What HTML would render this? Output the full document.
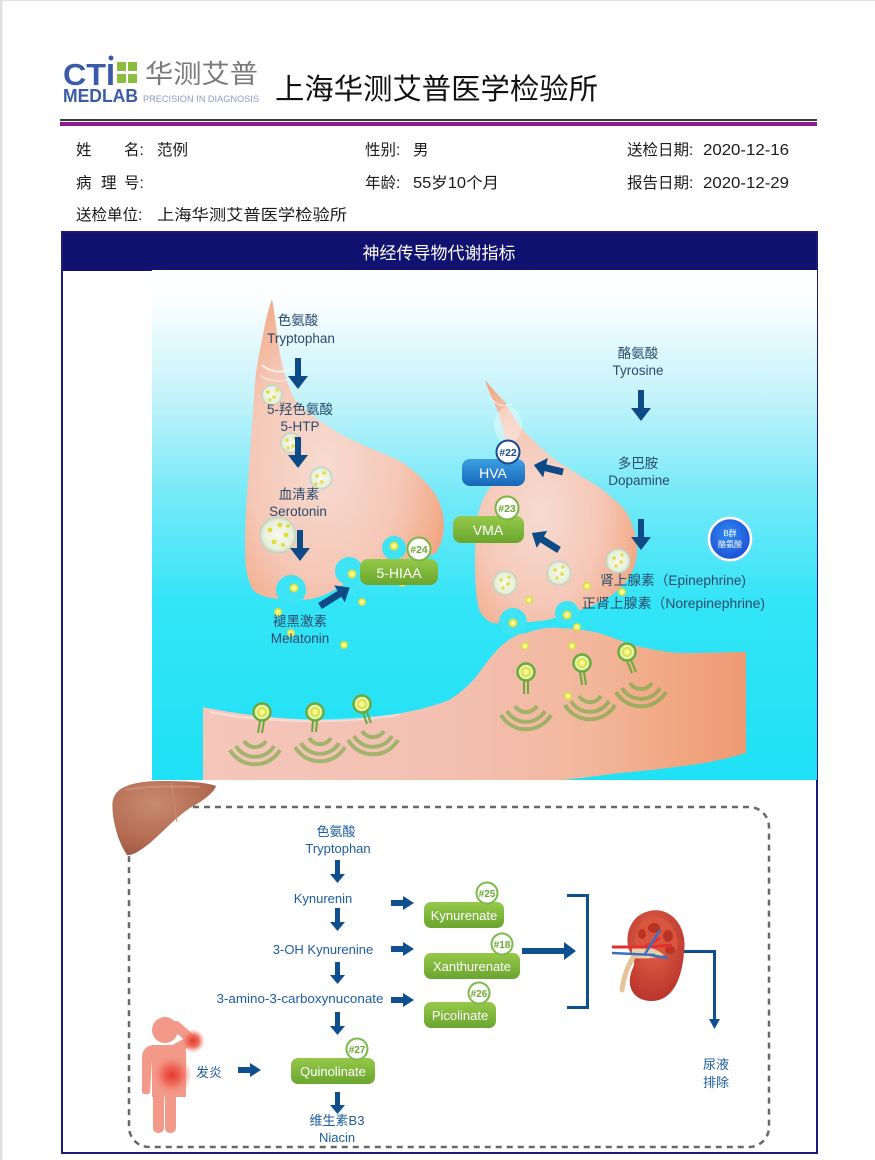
<!DOCTYPE html>
<html><head><meta charset="utf-8">
<style>
html,body{margin:0;padding:0;background:#fff;}
svg{display:block;}
text{font-family:"Liberation Sans","Noto Sans CJK SC",sans-serif;}
</style></head><body>
<svg width="875" height="1160" viewBox="0 0 875 1160" xmlns="http://www.w3.org/2000/svg">
<defs>
  <linearGradient id="bg" x1="0" y1="270" x2="0" y2="780" gradientUnits="userSpaceOnUse">
    <stop offset="0" stop-color="#ffffff"/>
    <stop offset="0.06" stop-color="#fbfeff"/>
    <stop offset="0.25" stop-color="#c4f3fa"/>
    <stop offset="0.45" stop-color="#72e9f8"/>
    <stop offset="0.65" stop-color="#34e4f7"/>
    <stop offset="1" stop-color="#1fe1f6"/>
  </linearGradient>
  <radialGradient id="neu" cx="0.4" cy="0.55" r="0.7">
    <stop offset="0" stop-color="#f7dbd2"/>
    <stop offset="0.55" stop-color="#f5c7b6"/>
    <stop offset="0.85" stop-color="#f2ad8c"/>
    <stop offset="1" stop-color="#ec9870"/>
  </radialGradient>
  <linearGradient id="low" x1="0" y1="0" x2="1" y2="0">
    <stop offset="0" stop-color="#f5c6bb"/>
    <stop offset="0.45" stop-color="#f3c0b2"/>
    <stop offset="0.7" stop-color="#f2b89e"/>
    <stop offset="0.9" stop-color="#f0a47e"/>
    <stop offset="1" stop-color="#ee9a74"/>
  </linearGradient>
  <linearGradient id="blueb" x1="0" y1="0" x2="0" y2="1">
    <stop offset="0" stop-color="#3d9fe4"/>
    <stop offset="1" stop-color="#1766b6"/>
  </linearGradient>
  <linearGradient id="greenb" x1="0" y1="0" x2="0" y2="1">
    <stop offset="0" stop-color="#95c94a"/>
    <stop offset="1" stop-color="#6aa52e"/>
  </linearGradient>
  <radialGradient id="bq" cx="0.45" cy="0.4" r="0.6">
    <stop offset="0" stop-color="#2f8cf0"/>
    <stop offset="1" stop-color="#1e4fd6"/>
  </radialGradient>
  <radialGradient id="liver" cx="0.4" cy="0.3" r="0.8">
    <stop offset="0" stop-color="#c98a70"/>
    <stop offset="0.7" stop-color="#b0694f"/>
    <stop offset="1" stop-color="#965440"/>
  </radialGradient>
  <radialGradient id="glow" cx="0.5" cy="0.5" r="0.5">
    <stop offset="0" stop-color="#e53a2c"/>
    <stop offset="0.5" stop-color="#ef6e60"/>
    <stop offset="1" stop-color="#f2998a" stop-opacity="0"/>
  </radialGradient>
  <radialGradient id="kid" cx="0.45" cy="0.35" r="0.7">
    <stop offset="0" stop-color="#e0654a"/>
    <stop offset="1" stop-color="#b8322a"/>
  </radialGradient>
  <radialGradient id="ves" cx="0.5" cy="0.5" r="0.5">
    <stop offset="0" stop-color="#f6f8ec"/>
    <stop offset="0.8" stop-color="#e8f0dc"/>
    <stop offset="1" stop-color="#c9d9c4"/>
  </radialGradient>
  <radialGradient id="ydot" cx="0.5" cy="0.5" r="0.5">
    <stop offset="0" stop-color="#ffffff"/>
    <stop offset="0.45" stop-color="#f8f46a"/>
    <stop offset="1" stop-color="#c8d83a"/>
  </radialGradient>
  <clipPath id="imgclip"><rect x="152" y="270" width="665" height="510"/></clipPath>
</defs>

<!-- page edges -->
<rect x="0" y="0" width="875" height="1" fill="#e2e2e2"/>
<rect x="0" y="0" width="2.5" height="1160" fill="#e0e0e0"/>

<!-- logo -->
<text x="63" y="85" font-size="31" font-weight="bold" fill="#3a5ca6" textLength="52" lengthAdjust="spacingAndGlyphs">CTI</text>
<circle cx="111" cy="58" r="2.5" fill="#3a5ca6"/>
<rect x="117" y="62" width="9" height="9" fill="#8bbd3e"/>
<rect x="128" y="62" width="9" height="9" fill="#8bbd3e"/>
<rect x="117" y="74" width="9" height="9" fill="#8bbd3e"/>
<rect x="128" y="74" width="9" height="9" fill="#8bbd3e"/>
<text x="145" y="83" font-size="26" fill="#7a7a7a" textLength="113" lengthAdjust="spacingAndGlyphs">华测艾普</text>
<text x="63" y="102" font-size="18" font-weight="bold" fill="#3a5ca6" textLength="75" lengthAdjust="spacingAndGlyphs">MEDLAB</text>
<text x="143" y="102" font-size="9.5" fill="#8d9cc4" textLength="116" lengthAdjust="spacingAndGlyphs">PRECISION IN DIAGNOSIS</text>

<!-- title -->
<text x="275" y="99" font-size="29" fill="#111" textLength="323" lengthAdjust="spacingAndGlyphs">上海华测艾普医学检验所</text>

<!-- divider lines -->
<rect x="60" y="119" width="757" height="2" fill="#3b3b3b"/>
<rect x="60" y="122" width="757" height="4" fill="#8c1a8c"/>

<!-- info -->
<g font-size="15.5" fill="#1a1a1a">
  <text x="76" y="155">姓</text><text x="124" y="155">名:</text><text x="157" y="155">范例</text>
  <text x="365" y="155">性别:</text><text x="413" y="155">男</text>
  <text x="627" y="155">送检日期:</text><text x="703" y="155" textLength="86" lengthAdjust="spacingAndGlyphs">2020-12-16</text>
  <text x="76" y="188">病</text><text x="101" y="188">理</text><text x="124" y="188">号:</text>
  <text x="365" y="188">年龄:</text><text x="413" y="188" textLength="86" lengthAdjust="spacingAndGlyphs">55岁10个月</text>
  <text x="627" y="188">报告日期:</text><text x="703" y="188" textLength="86" lengthAdjust="spacingAndGlyphs">2020-12-29</text>
  <text x="76" y="220">送检单位:</text><text x="157" y="220" textLength="190" lengthAdjust="spacingAndGlyphs">上海华测艾普医学检验所</text>
</g>

<!-- frame -->
<rect x="61" y="232" width="757" height="39" fill="#11116f"/>
<text x="439" y="259" font-size="17" fill="#ffffff" text-anchor="middle">神经传导物代谢指标</text>
<rect x="62" y="232" width="755" height="921" fill="none" stroke="#1c1c78" stroke-width="2"/>

<!-- neuron image -->
<g clip-path="url(#imgclip)">
  <rect x="152" y="270" width="666" height="510" fill="url(#bg)"/>

  <!-- lower neuron -->
  <path d="M203,707 C225,712 280,720 321,720 C370,720 420,712 449,700 C465,690 472,682 479,673 C488,660 495,652 500,647 C510,638 518,634 526,633 C540,628 550,627 560,628 C580,629 590,631 599,633 C615,638 628,644 641,647 C660,651 672,653 684,653 C710,653 730,652 746,652 L746,753 C730,758 715,761 705,763 C670,768 645,771 620,773 C590,777 565,780 543,782 L203,782 Z" fill="url(#low)"/>
  <path d="M210,712 C260,722 330,724 400,715" stroke="#fff" stroke-opacity="0.35" stroke-width="3" fill="none"/>

  <!-- left neuron -->
  <path d="M272,299 C268,310 265,323 262,340 C258,360 255,373 254,400 C252,425 250,457 248,480 C246,505 245,523 245,545 C245,560 245,575 253,590 C260,598 280,600 300,600 C320,600 335,590 350,580 C360,572 372,562 395,560 C415,558 430,556 436,553 C444,540 445,527 443,515 C440,500 433,490 428,485 C415,470 400,460 389,456 C370,448 350,440 334,430 C315,418 302,408 295,400 C285,380 280,360 278,340 C276,325 274,310 272,299 Z" fill="url(#neu)"/>
  <path d="M262,365 C270,372 282,374 292,368" stroke="#fff" stroke-opacity="0.7" stroke-width="2" fill="none"/>
  <path d="M260,375 C268,382 284,383 294,377" stroke="#fff" stroke-opacity="0.5" stroke-width="1.5" fill="none"/>

  <!-- right neuron -->
  <path d="M485,380 C492,388 498,395 505,402 C512,415 518,425 526,433 C538,445 548,455 560,463 C575,473 592,482 603,490 C615,500 625,508 629,517 C634,528 637,540 637,550 C637,560 634,570 629,577 C622,588 612,596 603,600 C592,606 585,609 577,611 C560,616 550,620 540,621 C525,623 505,624 492,623 C483,618 479,612 478,605 C475,590 475,575 475,560 C475,545 476,530 478,515 C481,500 488,490 495,480 C500,470 505,460 507,450 C505,430 498,410 492,398 C489,392 487,386 485,380 Z" fill="url(#neu)"/>
  <ellipse cx="508" cy="425" rx="14" ry="18" fill="#ffffff" fill-opacity="0.35"/>
  <path d="M490,398 C496,405 505,408 512,404" stroke="#fff" stroke-opacity="0.6" stroke-width="1.5" fill="none"/>

  <!-- cyan notches -->
  <g fill="#3ee3f5">
    <circle cx="291" cy="590" r="15"/>
    <circle cx="349" cy="571" r="14"/>
    <circle cx="394" cy="548" r="12"/>
    <circle cx="513" cy="622" r="14"/>
    <circle cx="567" cy="613" r="12"/>
  </g>

  <!-- vesicles -->
  <g fill="url(#ves)" stroke="#bfd2c0" stroke-width="1">
    <circle cx="272" cy="395" r="10"/>
    <circle cx="291" cy="443" r="10"/>
    <circle cx="321" cy="478" r="11"/>
    <circle cx="278" cy="535" r="18"/>
    <circle cx="505" cy="583" r="12"/>
    <circle cx="559" cy="573" r="12"/>
    <circle cx="618" cy="561" r="12"/>
  </g>
  <g fill="#e6dc3a">
    <circle cx="268" cy="392" r="1.8"/><circle cx="274" cy="397" r="1.8"/><circle cx="277" cy="390" r="1.8"/><circle cx="270" cy="400" r="1.6"/>
    <circle cx="287" cy="440" r="1.8"/><circle cx="293" cy="446" r="1.8"/><circle cx="295" cy="438" r="1.6"/><circle cx="288" cy="448" r="1.6"/>
    <circle cx="317" cy="476" r="1.8"/><circle cx="324" cy="473" r="1.8"/><circle cx="322" cy="482" r="1.8"/><circle cx="316" cy="484" r="1.6"/>
    <circle cx="270" cy="530" r="2.4"/><circle cx="280" cy="525" r="2.4"/><circle cx="286" cy="535" r="2.4"/><circle cx="274" cy="542" r="2.4"/><circle cx="283" cy="545" r="2"/><circle cx="288" cy="526" r="2"/>
    <circle cx="501" cy="580" r="1.8"/><circle cx="508" cy="584" r="1.8"/><circle cx="503" cy="588" r="1.6"/><circle cx="509" cy="577" r="1.6"/>
    <circle cx="555" cy="570" r="1.8"/><circle cx="562" cy="574" r="1.8"/><circle cx="557" cy="578" r="1.6"/><circle cx="563" cy="567" r="1.6"/>
    <circle cx="614" cy="558" r="1.8"/><circle cx="621" cy="562" r="1.8"/><circle cx="616" cy="566" r="1.6"/><circle cx="622" cy="555" r="1.6"/>
  </g>

  <!-- neurotransmitter dots -->
  <g fill="url(#ydot)">
    <circle cx="294" cy="588" r="4.5"/><circle cx="352" cy="574" r="4.5"/><circle cx="394" cy="546" r="4.5"/>
    <circle cx="402" cy="583" r="4"/><circle cx="362" cy="602" r="4"/><circle cx="278" cy="612" r="4"/>
    <circle cx="291" cy="633" r="4"/><circle cx="344" cy="645" r="4"/><circle cx="513" cy="623" r="4.5"/>
    <circle cx="529" cy="600" r="4"/><circle cx="587" cy="586" r="4"/><circle cx="622" cy="592" r="4"/>
    <circle cx="567" cy="615" r="4.5"/><circle cx="577" cy="627" r="4"/><circle cx="525" cy="646" r="4"/>
    <circle cx="572" cy="646" r="4"/><circle cx="568" cy="696" r="4"/>
  </g>

  <!-- receptors -->
  <g stroke="#6aaa3c" fill="none">
    <g stroke-opacity="0.6" stroke-width="4">
      <path d="M244,741 A13,13 0 0 0 266,741"/>
      <path d="M236,746 A22,22 0 0 0 274,746"/>
      <path d="M230,750 A29,29 0 0 0 280,750"/>
      <path d="M309,738 A13,13 0 0 0 331,738"/>
      <path d="M301,743 A22,22 0 0 0 339,743"/>
      <path d="M295,747 A29,29 0 0 0 345,747"/>
      <path d="M362,731 A13,13 0 0 0 384,731"/>
      <path d="M354,736 A22,22 0 0 0 392,736"/>
      <path d="M348,740 A29,29 0 0 0 398,740"/>
      <path d="M515,706 A13,13 0 0 0 537,706"/>
      <path d="M507,711 A22,22 0 0 0 545,711"/>
      <path d="M501,715 A29,29 0 0 0 551,715"/>
      <path d="M579,696 A13,13 0 0 0 601,696"/>
      <path d="M571,701 A22,22 0 0 0 609,701"/>
      <path d="M565,705 A29,29 0 0 0 615,705"/>
      <path d="M630,683 A13,13 0 0 0 652,683"/>
      <path d="M622,688 A22,22 0 0 0 660,688"/>
      <path d="M616,692 A29,29 0 0 0 666,692"/>
    </g>
    <g stroke-width="2">
      <path d="M260,721 L258,733 M264,721 L262,733"/>
      <path d="M313,721 L312,732 M317,721 L316,732"/>
      <path d="M363,713 L367,724 M367,712 L371,723"/>
      <path d="M524,681 L524,694 M528,681 L528,694"/>
      <path d="M580,672 L582,685 M584,672 L586,685"/>
      <path d="M627,661 L632,673 M631,660 L636,672"/>
    </g>
    <g stroke-width="2.5" fill="#eaf5b0">
      <circle cx="262" cy="712" r="8.5"/>
      <circle cx="315" cy="712" r="8.5"/>
      <circle cx="362" cy="704" r="8.5"/>
      <circle cx="526" cy="672" r="8.5"/>
      <circle cx="582" cy="663" r="8.5"/>
      <circle cx="627" cy="652" r="8.5"/>
    </g>
  </g>
  <g fill="url(#ydot)">
    <circle cx="262" cy="712" r="5"/><circle cx="315" cy="712" r="5"/><circle cx="362" cy="704" r="5"/>
    <circle cx="526" cy="672" r="5"/><circle cx="582" cy="663" r="5"/><circle cx="627" cy="652" r="5"/>
  </g>

  <!-- labels -->
  <g font-size="13.5" fill="#2a4b6b" text-anchor="middle">
    <text x="298" y="325">色氨酸</text>
    <text x="301" y="343">Tryptophan</text>
    <text x="300" y="414">5-羟色氨酸</text>
    <text x="300" y="431">5-HTP</text>
    <text x="299" y="499">血清素</text>
    <text x="298" y="516">Serotonin</text>
    <text x="300" y="626">褪黑激素</text>
    <text x="300" y="643">Melatonin</text>
    <text x="638" y="358">酪氨酸</text>
    <text x="638" y="375">Tyrosine</text>
    <text x="638" y="468">多巴胺</text>
    <text x="639" y="485">Dopamine</text>
  </g>
  <g font-size="13.5" fill="#2a4b6b">
    <text x="600" y="585" textLength="146" lengthAdjust="spacingAndGlyphs">肾上腺素（Epinephrine)</text>
    <text x="582" y="608" textLength="183" lengthAdjust="spacingAndGlyphs">正肾上腺素（Norepinephrine)</text>
  </g>

  <!-- down arrows -->
  <g fill="#0d4a86">
    <path d="M295,358 L301,358 L301,376 L308,376 L298,389 L288,376 L295,376 Z"/>
    <path d="M295,437 L301,437 L301,455 L308,455 L298,468 L288,455 L295,455 Z"/>
    <path d="M297,530 L303,530 L303,548 L310,548 L300,561 L290,548 L297,548 Z"/>
    <path d="M638,390 L644,390 L644,408 L651,408 L641,421 L631,408 L638,408 Z"/>
    <path d="M638,519 L644,519 L644,537 L651,537 L641,550 L631,537 L638,537 Z"/>
    <path d="M0,-3.5 L18,-3.5 L18,-10 L30,0 L18,10 L18,3.5 L0,3.5 Z" transform="translate(563,472) rotate(193.6)"/>
    <path d="M0,-3.5 L20,-3.5 L20,-10 L32,0 L20,10 L20,3.5 L0,3.5 Z" transform="translate(559,550) rotate(212)"/>
    <path d="M0,-3.5 L23,-3.5 L23,-10 L35,0 L23,10 L23,3.5 L0,3.5 Z" transform="translate(320,606) rotate(-32)"/>
  </g>

  <!-- badges -->
  <rect x="462" y="459" width="63" height="27" rx="8" fill="url(#blueb)"/>
  <text x="493" y="478" font-size="14" fill="#fff" text-anchor="middle">HVA</text>
  <circle cx="508" cy="452" r="11.5" fill="#fff" stroke="#1a4a8a" stroke-width="2"/>
  <text x="508" y="456" font-size="10.5" font-weight="bold" fill="#1a4a8a" text-anchor="middle">#22</text>

  <rect x="453" y="516" width="71" height="27" rx="8" fill="url(#greenb)"/>
  <text x="488" y="535" font-size="14" fill="#fff" text-anchor="middle">VMA</text>
  <circle cx="507" cy="508" r="11.5" fill="#fff" stroke="#7ab640" stroke-width="2"/>
  <text x="507" y="512" font-size="10.5" font-weight="bold" fill="#6aa830" text-anchor="middle">#23</text>

  <rect x="360" y="559" width="78" height="26" rx="8" fill="url(#greenb)"/>
  <text x="399" y="578" font-size="14" fill="#fff" text-anchor="middle">5-HIAA</text>
  <circle cx="419" cy="549" r="11.5" fill="#fff" stroke="#7ab640" stroke-width="2"/>
  <text x="419" y="553" font-size="10.5" font-weight="bold" fill="#6aa830" text-anchor="middle">#24</text>

  <!-- B群 -->
  <circle cx="730" cy="539" r="24" fill="#9fd8ff" fill-opacity="0.35"/>
  <circle cx="730" cy="539" r="21" fill="url(#bq)" stroke="#fff" stroke-width="2.5"/>
  <text x="730" y="536" font-size="8" fill="#fff" text-anchor="middle">B群</text>
  <text x="730" y="547" font-size="8" fill="#fff" text-anchor="middle">酪氨酸</text>
</g>

<!-- lower section -->
<rect x="129" y="807" width="640" height="340" rx="20" fill="none" stroke="#686868" stroke-width="2.5" stroke-dasharray="6 5"/>

<!-- liver -->
<path d="M115,795 C120,785 140,781 160,781 C185,781 205,782 216,786 C214,792 205,800 190,808 C175,818 165,830 150,843 C140,851 132,856 127,855 C120,845 115,830 113,815 C112,805 112,800 115,795 Z" fill="url(#liver)"/>
<path d="M171,783 C174,795 175,810 177,822" stroke="#c98c74" stroke-width="1" fill="none"/>
<path d="M125,790 C145,786 170,786 200,787" stroke="#d9a08a" stroke-opacity="0.5" stroke-width="2" fill="none"/>

<g font-size="13" fill="#1b5c9e" text-anchor="middle">
  <text x="336" y="836">色氨酸</text>
  <text x="338" y="853">Tryptophan</text>
  <text x="323" y="903">Kynurenin</text>
  <text x="323" y="954">3-OH Kynurenine</text>
  <text x="300" y="1003" textLength="167" lengthAdjust="spacingAndGlyphs">3-amino-3-carboxynuconate</text>
  <text x="209" y="1077">发炎</text>
  <text x="337" y="1125">维生素B3</text>
  <text x="337" y="1142">Niacin</text>
  <text x="716" y="1069">尿液</text>
  <text x="716" y="1087">排除</text>
</g>

<g fill="#0d4f8f">
  <path d="M335,860 L340,860 L340,874 L345,874 L337.5,883 L330,874 L335,874 Z"/>
  <path d="M335,908 L340,908 L340,922 L345,922 L337.5,931 L330,922 L335,922 Z"/>
  <path d="M335,962 L340,962 L340,975 L345,975 L337.5,984 L330,975 L335,975 Z"/>
  <path d="M335,1012 L340,1012 L340,1026 L345,1026 L337.5,1035 L330,1026 L335,1026 Z"/>
  <path d="M335,1092 L340,1092 L340,1105 L345,1105 L337.5,1114 L330,1105 L335,1105 Z"/>
  <path d="M391,900 L403,900 L403,896 L414,903 L403,910 L403,906 L391,906 Z"/>
  <path d="M391,946 L403,946 L403,942 L414,949 L403,956 L403,952 L391,952 Z"/>
  <path d="M391,997 L403,997 L403,993 L414,1000 L403,1007 L403,1003 L391,1003 Z"/>
  <path d="M238,1067 L250,1067 L250,1063 L261,1070 L250,1077 L250,1073 L238,1073 Z"/>
  <path d="M522,948 L564,948 L564,942 L576,951 L564,960 L564,954 L522,954 Z"/>
  <path d="M567,894 L589,894 L589,1009 L567,1009 L567,1006 L586,1006 L586,897 L567,897 Z"/>
  <path d="M678,950 L716,950 L716,1019 L720,1019 L714.5,1029 L709,1019 L713,1019 L713,953 L678,953 Z"/>
</g>

<!-- lower badges -->
<rect x="424" y="902" width="80" height="26" rx="7" fill="url(#greenb)"/>
<text x="464" y="920" font-size="13" fill="#fff" text-anchor="middle">Kynurenate</text>
<circle cx="487" cy="893" r="10.5" fill="#fff" stroke="#7cba48" stroke-width="2"/>
<text x="487" y="897" font-size="10" font-weight="bold" fill="#6aa830" text-anchor="middle">#25</text>

<rect x="424" y="953" width="96" height="26" rx="7" fill="url(#greenb)"/>
<text x="472" y="971" font-size="13" fill="#fff" text-anchor="middle">Xanthurenate</text>
<circle cx="502" cy="944" r="10.5" fill="#fff" stroke="#7cba48" stroke-width="2"/>
<text x="502" y="948" font-size="10" font-weight="bold" fill="#6aa830" text-anchor="middle">#18</text>

<rect x="424" y="1002" width="72" height="26" rx="7" fill="url(#greenb)"/>
<text x="460" y="1020" font-size="13" fill="#fff" text-anchor="middle">Picolinate</text>
<circle cx="479" cy="993" r="10.5" fill="#fff" stroke="#7cba48" stroke-width="2"/>
<text x="479" y="997" font-size="10" font-weight="bold" fill="#6aa830" text-anchor="middle">#26</text>

<rect x="291" y="1058" width="84" height="26" rx="7" fill="url(#greenb)"/>
<text x="333" y="1076" font-size="13" fill="#fff" text-anchor="middle">Quinolinate</text>
<circle cx="357" cy="1049" r="10.5" fill="#fff" stroke="#7cba48" stroke-width="2"/>
<text x="357" y="1053" font-size="10" font-weight="bold" fill="#6aa830" text-anchor="middle">#27</text>

<!-- kidney -->
<path d="M646,912 C668,904 688,924 684,952 C682,980 672,1002 650,1001 C632,1000 626,985 632,970 C636,962 634,958 630,952 C624,940 628,918 646,912 Z" fill="url(#kid)"/>
<path d="M647,918 C664,912 680,928 677,950 L660,956 C650,956 640,952 636,948 C634,935 638,922 647,918 Z" fill="#d8553e"/>
<g fill="#b93226">
  <ellipse cx="654" cy="928" rx="6" ry="5"/>
  <ellipse cx="668" cy="936" rx="5" ry="6"/>
  <ellipse cx="670" cy="950" rx="5" ry="4"/>
  <ellipse cx="642" cy="934" rx="4" ry="5"/>
</g>
<path d="M632,948 C645,944 655,948 664,955 C652,960 640,958 632,958 Z" fill="#eed0a4"/>
<path d="M634,956 C628,965 624,975 622,990" stroke="#e5c496" stroke-width="5" fill="none" stroke-linecap="round"/>
<path d="M612,947 L650,947 M645,947 L660,938 M650,947 L672,945" stroke="#e23030" stroke-width="3" fill="none"/>
<path d="M612,953 L655,955 M650,955 L668,958 M645,954 L660,930" stroke="#3a6fc8" stroke-width="2.5" fill="none"/>

<!-- person -->
<g fill="#f2998a">
  <circle cx="165" cy="1030" r="13"/>
  <path d="M170,1052 L192,1040 L176,1026" stroke="#f2998a" stroke-width="10" fill="none" stroke-linecap="round" stroke-linejoin="round"/>
  <path d="M154,1045 L180,1045 C184,1045 186,1049 186,1053 L186,1097 L152,1097 L152,1060 L150,1092 C150,1095 142,1095 142,1092 L142,1058 C142,1050 147,1045 154,1045 Z"/>
  <rect x="153" y="1090" width="11" height="43" rx="5"/>
  <rect x="165" y="1090" width="11" height="43" rx="5"/>
</g>
<circle cx="193" cy="1041" r="12" fill="url(#glow)"/>
<circle cx="172" cy="1075" r="20" fill="url(#glow)"/>
</svg>
</body></html>
